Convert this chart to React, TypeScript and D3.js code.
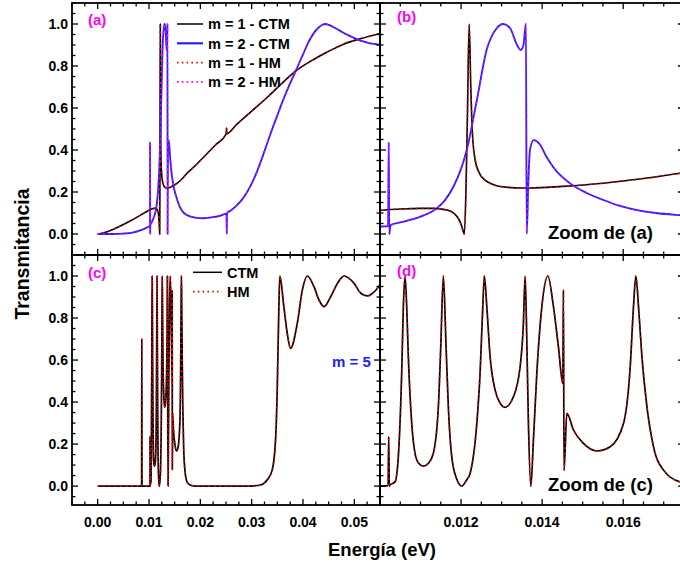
import React from 'react';
import * as d3 from 'd3';

type Pt = [number, number];

// m = 1 (panels a, b) — CTM and HM coincide
const m1CTM: Pt[] = [
  [0, 0], [0.001, 0.005], [0.002, 0.012], [0.003, 0.022], [0.004, 0.033], [0.005, 0.045],
  [0.006, 0.058], [0.007, 0.071], [0.008, 0.085], [0.009, 0.099], [0.010, 0.113],
  [0.0105, 0.119], [0.011, 0.122], [0.0113, 0.122], [0.0115, 0.119], [0.01165, 0.114],
  [0.0118, 0.102], [0.0119, 0.083], [0.01197, 0.06], [0.01202, 0.035], [0.01208, 0.0],
  [0.01212, 0.2], [0.01216, 0.6], [0.0122, 1.0], [0.01224, 0.7], [0.01228, 0.48],
  [0.01235, 0.35], [0.01245, 0.29], [0.0126, 0.255], [0.0128, 0.235], [0.0131, 0.223],
  [0.0135, 0.219], [0.0137, 0.219], [0.0145, 0.227], [0.0155, 0.242], [0.0165, 0.264],
  [0.0174, 0.289], [0.019, 0.325], [0.021, 0.375], [0.023, 0.425], [0.025, 0.475],
  [0.02505, 0.478], [0.0251, 0.505], [0.02515, 0.478], [0.027, 0.52], [0.030, 0.585],
  [0.033, 0.65], [0.036, 0.72], [0.0388, 0.78], [0.042, 0.83], [0.045, 0.87],
  [0.048, 0.905], [0.0515, 0.932], [0.055, 0.955],
];
const m1HM: Pt[] = m1CTM;

// m = 2 (panels a, b)
const m2CTM: Pt[] = [
  [0, 0], [0.003, 0.0], [0.005, 0.002], [0.006, 0.004], [0.007, 0.008], [0.008, 0.015],
  [0.009, 0.024], [0.0095, 0.03], [0.0100, 0.035], [0.0102, 0.038], [0.010215, 0.437],
  [0.01023, 0.0], [0.01026, 0.042], [0.0105, 0.055], [0.011, 0.083], [0.0114, 0.122],
  [0.0116, 0.16], [0.01181, 0.225], [0.0120, 0.31], [0.01214, 0.40], [0.01239, 0.638],
  [0.01263, 0.876], [0.01288, 0.98], [0.01304, 1.0], [0.01321, 0.98], [0.01338, 0.90],
  [0.01347, 0.876], [0.01354, 0.90], [0.0136, 1.0], [0.01362, 0.0], [0.01366, 0.25],
  [0.0137, 0.40], [0.01379, 0.447], [0.01395, 0.425], [0.0141, 0.37], [0.01428, 0.317],
  [0.01469, 0.241], [0.0151, 0.195], [0.01551, 0.162], [0.0159, 0.135], [0.01634, 0.114],
  [0.0168, 0.10], [0.0174, 0.09], [0.019, 0.078], [0.0206, 0.075], [0.0225, 0.08],
  [0.024, 0.088], [0.0251, 0.097], [0.02515, 0.0], [0.0252, 0.099], [0.026, 0.113],
  [0.027, 0.134], [0.028, 0.16], [0.029, 0.195], [0.030, 0.24], [0.031, 0.295],
  [0.032, 0.36], [0.033, 0.43], [0.034, 0.50], [0.035, 0.565], [0.036, 0.63],
  [0.037, 0.69], [0.038, 0.745], [0.039, 0.80], [0.040, 0.855], [0.041, 0.91],
  [0.042, 0.953], [0.043, 0.982], [0.0437, 0.995], [0.0443, 1.0], [0.0450, 0.996],
  [0.0458, 0.987], [0.0467, 0.975], [0.0477, 0.961], [0.0487, 0.948], [0.0497, 0.936],
  [0.0507, 0.926], [0.0517, 0.917], [0.0527, 0.91], [0.0538, 0.905], [0.055, 0.901],
];
const m2HM: Pt[] = m2CTM;

// m = 5 (panels c, d)
const m5CTM: Pt[] = [
  [0, 0], [0.00857, 0], [0.0086, 0.70], [0.00863, 0], [0.0100, 0], [0.0102, 0.002],
  [0.010215, 0.235], [0.01023, 0.0], [0.010247, 0.005], [0.01037, 0.02], [0.010452, 0.14],
  [0.010535, 0.537], [0.010576, 0.854], [0.010617, 1.0], [0.010659, 0.854], [0.010699, 0.616],
  [0.010783, 0.298], [0.010864, 0.156], [0.01095, 0.11], [0.011069, 0.095], [0.0112, 0.11],
  [0.011316, 0.156], [0.01144, 0.378], [0.011499, 0.663], [0.011563, 1.0], [0.01163, 0.663],
  [0.011686, 0.378], [0.01177, 0.14], [0.0119, 0.03], [0.012017, 0.0], [0.01214, 0.03],
  [0.012222, 0.06], [0.012388, 0.298], [0.012469, 0.537], [0.012536, 0.854], [0.012575, 1.0],
  [0.012635, 0.854], [0.012716, 0.616], [0.01284, 0.457], [0.01295, 0.40], [0.013086, 0.375],
  [0.013291, 0.425], [0.013457, 0.568], [0.013538, 0.775], [0.01358, 1.0], [0.013622, 0.695],
  [0.013662, 0.298], [0.013721, 0.0], [0.013785, 0.219], [0.013869, 0.537], [0.013993, 0.854],
  [0.014141, 1.0], [0.014279, 0.854], [0.014402, 0.663], [0.01451, 0.489], [0.014525, 0.933],
  [0.01454, 0.076], [0.01461, 0.346], [0.014773, 0.267], [0.01502, 0.203], [0.015351, 0.167],
  [0.015679, 0.187], [0.016007, 0.298], [0.016173, 0.568], [0.016254, 0.854], [0.016313, 1.0],
  [0.016378, 0.854], [0.016462, 0.616], [0.016585, 0.378], [0.016748, 0.187], [0.016995, 0.076],
  [0.017407, 0.02], [0.018, 0.005], [0.019, 0.0], [0.029, 0.0], [0.0304, 0.001],
  [0.0317, 0.005], [0.033, 0.029], [0.034, 0.076], [0.03465, 0.219], [0.03498, 0.457],
  [0.0353, 0.854], [0.03549, 1.0], [0.03627, 0.854], [0.03693, 0.727], [0.03758, 0.656],
  [0.03889, 0.775], [0.03987, 0.933], [0.04084, 1.0], [0.04214, 0.949], [0.04311, 0.886],
  [0.04409, 0.854], [0.0454, 0.902], [0.04671, 0.965], [0.048, 1.0], [0.04995, 0.965],
  [0.05126, 0.918], [0.05257, 0.905], [0.05386, 0.924], [0.05517, 0.965],
];
const m5HM: Pt[] = m5CTM;

const yMajor = [0, 0.2, 0.4, 0.6, 0.8, 1.0];
const yLabels = ['0.0', '0.2', '0.4', '0.6', '0.8', '1.0'];
const xMajorWide = [0, 0.01, 0.02, 0.03, 0.04, 0.05];
const xLabelsWide = ['0.00', '0.01', '0.02', '0.03', '0.04', '0.05'];
const xMajorZoom = [0.010, 0.012, 0.014, 0.016];
const xLabelsZoom = ['', '0.012', '0.014', '0.016'];
const legendTop = ['m = 1 - CTM', 'm = 2 - CTM', 'm = 1 - HM', 'm = 2 - HM'];
const legendBottom = ['CTM', 'HM'];

const FONT = "'Liberation Sans', Arial, Helvetica, sans-serif";
const BLUE = '#2020ff';
const MAG = '#ff00ff';
const RED = '#ff0000';
const DOTS = '1.4 4.2';

const L = 72, MX = 380, R = 684, T = 3, MY = 255, B = 505;

type Scale = d3.ScaleLinear<number, number>;

function frameTicks(x: Scale, y: Scale, xMaj: number[], xMin: number[], yMaj: number[], yMin: number[], key: string) {
  const [x0, x1] = x.range();
  const [y0, y1] = y.range(); // y0 bottom, y1 top
  const out: JSX.Element[] = [];
  const MJ = 6, MN = 3.5;
  xMaj.forEach((v, i) => {
    const px = x(v);
    out.push(<line key={`${key}xb${i}`} x1={px} x2={px} y1={y0} y2={y0 - MJ} />);
    out.push(<line key={`${key}xt${i}`} x1={px} x2={px} y1={y1} y2={y1 + MJ} />);
  });
  xMin.forEach((v, i) => {
    const px = x(v);
    out.push(<line key={`${key}xmb${i}`} x1={px} x2={px} y1={y0} y2={y0 - MN} />);
    out.push(<line key={`${key}xmt${i}`} x1={px} x2={px} y1={y1} y2={y1 + MN} />);
  });
  yMaj.forEach((v, i) => {
    const py = y(v);
    out.push(<line key={`${key}yl${i}`} x1={x0} x2={x0 + MJ} y1={py} y2={py} />);
    out.push(<line key={`${key}yr${i}`} x1={x1} x2={x1 - MJ} y1={py} y2={py} />);
  });
  yMin.forEach((v, i) => {
    const py = y(v);
    out.push(<line key={`${key}yml${i}`} x1={x0} x2={x0 + MN} y1={py} y2={py} />);
    out.push(<line key={`${key}ymr${i}`} x1={x1} x2={x1 - MN} y1={py} y2={py} />);
  });
  return out;
}

function inDomain(v: number, s: Scale) {
  const [a, b] = s.domain();
  return v >= Math.min(a, b) - 1e-9 && v <= Math.max(a, b) + 1e-9;
}

export default function App() {
  const xWide = d3.scaleLinear().domain([-0.005, 0.055]).range([L, MX]);
  const xZoom = d3.scaleLinear().domain([0.010, 0.0175]).range([MX, R]);
  const yTop = d3.scaleLinear().domain([-0.1, 1.1]).range([MY, T]);
  const yBot = d3.scaleLinear().domain([-0.09, 1.1]).range([B, MY]);

  const panels = [
    { id: 'a', x: xWide, y: yTop, series: 'top' },
    { id: 'b', x: xZoom, y: yTop, series: 'top' },
    { id: 'c', x: xWide, y: yBot, series: 'bot' },
    { id: 'd', x: xZoom, y: yBot, series: 'bot' },
  ];

  const yMinorAll = d3.range(-0.1, 1.1001, 0.05).map(v => +v.toFixed(3)).filter(v => Math.abs(v * 5 - Math.round(v * 5)) > 1e-6);
  const xMinorWide = d3.range(-0.005, 0.0551, 0.0025).map(v => +v.toFixed(4)).filter(v => Math.abs(v * 100 - Math.round(v * 100)) > 1e-6);
  const xMinorZoom = d3.range(0.010, 0.0176, 0.0005).map(v => +v.toFixed(4)).filter(v => Math.abs(v * 500 - Math.round(v * 500)) > 1e-6);

  return (
    <svg width={680} height={567} style={{ display: 'block', position: 'absolute', left: 0, top: 0 }} fontFamily={FONT}>
      <rect x={0} y={0} width={680} height={567} fill="#fff" />
      <defs>
        {panels.map(p => (
          <clipPath id={`clip-${p.id}`} key={p.id}>
            <rect x={p.x.range()[0]} y={p.y.range()[1]} width={p.x.range()[1] - p.x.range()[0]} height={p.y.range()[0] - p.y.range()[1]} />
          </clipPath>
        ))}
      </defs>

      {panels.map(p => {
        const line = d3.line<Pt>().x(d => p.x(d[0])).y(d => p.y(d[1])).curve(d3.curveMonotoneX);
        const series = p.series === 'top'
          ? [
            { d: m1CTM, stroke: '#000', w: 1.6, dash: undefined },
            { d: m2CTM, stroke: BLUE, w: 1.8, dash: undefined },
            { d: m1HM, stroke: RED, w: 1.7, dash: DOTS },
            { d: m2HM, stroke: MAG, w: 1.7, dash: DOTS },
          ]
          : [
            { d: m5CTM, stroke: '#000', w: 1.7, dash: undefined },
            { d: m5HM, stroke: RED, w: 1.7, dash: DOTS },
          ];
        return (
          <g key={p.id} clipPath={`url(#clip-${p.id})`}>
            {series.map((s, i) => (
              <path key={i} d={line(s.d) || ''} fill="none" stroke={s.stroke} strokeWidth={s.w}
                strokeDasharray={s.dash} strokeLinejoin="round" />
            ))}
          </g>
        );
      })}

      {/* frames and ticks */}
      <g stroke="#000" strokeWidth={1.3} fill="none">
        {panels.map(p => {
          const isWide = p.x === xWide;
          const xMaj = (isWide ? xMajorWide : xMajorZoom).filter(v => inDomain(v, p.x));
          const xMin = (isWide ? xMinorWide : xMinorZoom).filter(v => inDomain(v, p.x));
          const yMin = yMinorAll.filter(v => inDomain(v, p.y));
          return <g key={p.id}>{frameTicks(p.x, p.y, xMaj, xMin, yMajor, yMin, p.id)}</g>;
        })}
      </g>
      <g stroke="#000" strokeWidth={1.8} fill="none">
        {panels.map(p => (
          <rect key={p.id} x={p.x.range()[0]} y={p.y.range()[1]} width={p.x.range()[1] - p.x.range()[0]} height={p.y.range()[0] - p.y.range()[1]} />
        ))}
      </g>

      {/* y tick labels */}
      <g fontSize={14} fontWeight="bold" textAnchor="end" fill="#000">
        {yMajor.map((v, i) => (
          <text key={`ya${i}`} x={L - 4} y={yTop(v)} dy="0.36em">{yLabels[i]}</text>
        ))}
        {yMajor.map((v, i) => (
          <text key={`yc${i}`} x={L - 4} y={yBot(v)} dy="0.36em">{yLabels[i]}</text>
        ))}
      </g>
      {/* x tick labels */}
      <g fontSize={14} fontWeight="bold" textAnchor="middle" fill="#000">
        {xMajorWide.map((v, i) => (
          <text key={`xw${i}`} x={xWide(v)} y={527}>{xLabelsWide[i]}</text>
        ))}
        {xMajorZoom.map((v, i) => (
          <text key={`xz${i}`} x={xZoom(v)} y={527}>{xLabelsZoom[i]}</text>
        ))}
      </g>

      {/* axis titles */}
      <text x={382} y={556} textAnchor="middle" fontSize={18.5} fontWeight="bold">Energía (eV)</text>
      <text transform="translate(28.5,254) rotate(-90)" textAnchor="middle" fontSize={19.5} fontWeight="bold">Transmitancia</text>

      {/* panel labels */}
      <g fontSize={15} fontWeight="bold" fill={MAG}>
        <text x={88} y={25}>(a)</text>
        <text x={397} y={22}>(b)</text>
        <text x={88} y={278}>(c)</text>
        <text x={397} y={276}>(d)</text>
      </g>
      <g fontSize={18.5} fontWeight="bold" fill="#000">
        <text x={548} y={239}>Zoom de (a)</text>
        <text x={548} y={491}>Zoom de (c)</text>
      </g>
      <text x={332} y={367} fontSize={15} fontWeight="bold" fill={BLUE}>m = 5</text>

      {/* legend (a) */}
      <g fontSize={14.5} fontWeight="bold" fill="#000">
        {legendTop.map((t, i) => {
          const ly = 24 + i * 19.3;
          const st = [
            { stroke: '#000', w: 1.5, dash: undefined },
            { stroke: BLUE, w: 2.2, dash: undefined },
            { stroke: RED, w: 1.8, dash: '1.6 3.2' },
            { stroke: MAG, w: 1.8, dash: '1.6 3.2' },
          ][i];
          return (
            <g key={t}>
              <line x1={177} x2={203} y1={ly} y2={ly} stroke={st.stroke} strokeWidth={st.w} strokeDasharray={st.dash} />
              <text x={208} y={ly} dy="0.36em">{t}</text>
            </g>
          );
        })}
      </g>
      {/* legend (c) */}
      <g fontSize={14.5} fontWeight="bold" fill="#000">
        {legendBottom.map((t, i) => {
          const ly = 272.3 + i * 19.4;
          return (
            <g key={t}>
              <line x1={193} x2={222} y1={ly} y2={ly} stroke={i === 0 ? '#000' : RED} strokeWidth={i === 0 ? 1.5 : 1.8}
                strokeDasharray={i === 0 ? undefined : '1.6 3.2'} />
              <text x={227} y={ly} dy="0.36em">{t}</text>
            </g>
          );
        })}
      </g>
    </svg>
  );
}
